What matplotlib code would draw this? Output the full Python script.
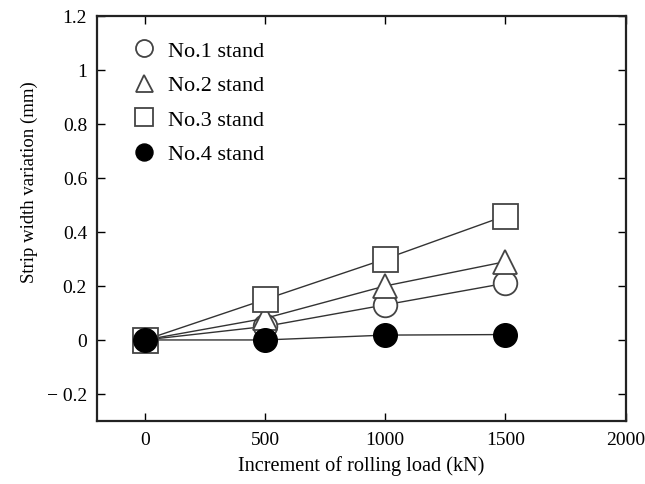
import matplotlib
matplotlib.use("Agg")
import matplotlib.pyplot as plt

load = [0, 500, 1000, 1500]
no1 = [0.0, 0.05, 0.13, 0.21]
no2 = [0.0, 0.08, 0.20, 0.29]
no3 = [0.0, 0.15, 0.30, 0.46]
no4 = [0.0, 0.0, 0.018, 0.02]
labels = ["No.1 stand", "No.2 stand", "No.3 stand", "No.4 stand"]
xticks = [0, 500, 1000, 1500, 2000]
yticks = [-0.2, 0, 0.2, 0.4, 0.6, 0.8, 1.0, 1.2]
yticklabels = ["\u2212 0.2", "0", "0.2", "0.4", "0.6", "0.8", "1", "1.2"]

plt.rcParams['font.family'] = ['Liberation Serif', 'DejaVu Serif']
fig = plt.figure(figsize=(6.45, 4.85), dpi=100)
ax = fig.add_axes([0.150, 0.130, 0.820, 0.835])

edge = '#444444'
line = '#333333'
ax.plot(load, no1, marker='o', ms=17, mfc='white', mec=edge, mew=1.3, color=line, lw=1.0, label=labels[0])
ax.plot(load, no2, marker='^', ms=17, mfc='white', mec=edge, mew=1.3, color=line, lw=1.0, label=labels[1])
ax.plot(load, no3, marker='s', ms=18, mfc='white', mec=edge, mew=1.3, color=line, lw=1.0, label=labels[2])
ax.plot(load, no4, marker='o', ms=17, mfc='black', mec='black', mew=1.0, color=line, lw=1.0, label=labels[3])

ax.set_xlim(-200, 2000)
ax.set_ylim(-0.3, 1.2)
ax.set_xticks(xticks)
ax.set_xticklabels([str(v) for v in xticks])
ax.set_yticks(yticks)
ax.set_yticklabels(yticklabels)
ax.tick_params(direction='in', top=True, right=True, length=6, width=1.0, labelsize=14, pad=7)
for s in ax.spines.values():
    s.set_linewidth(1.6)
    s.set_color('#222222')

ax.set_xlabel("Increment of rolling load (kN)", fontsize=14.6, labelpad=5)
ax.set_ylabel("Strip width variation (mm)", fontsize=13.5)
ax.yaxis.set_label_coords(-0.112, 0.593)

leg = ax.legend(loc='upper left', frameon=False, fontsize=16, markerscale=0.72,
                handlelength=1.2, handletextpad=0.5, labelspacing=0.63,
                bbox_to_anchor=(0.047, 0.962), borderaxespad=0.0)
for h in leg.get_lines():
    h.set_linestyle('none')

fig.savefig("out.png", dpi=100)
